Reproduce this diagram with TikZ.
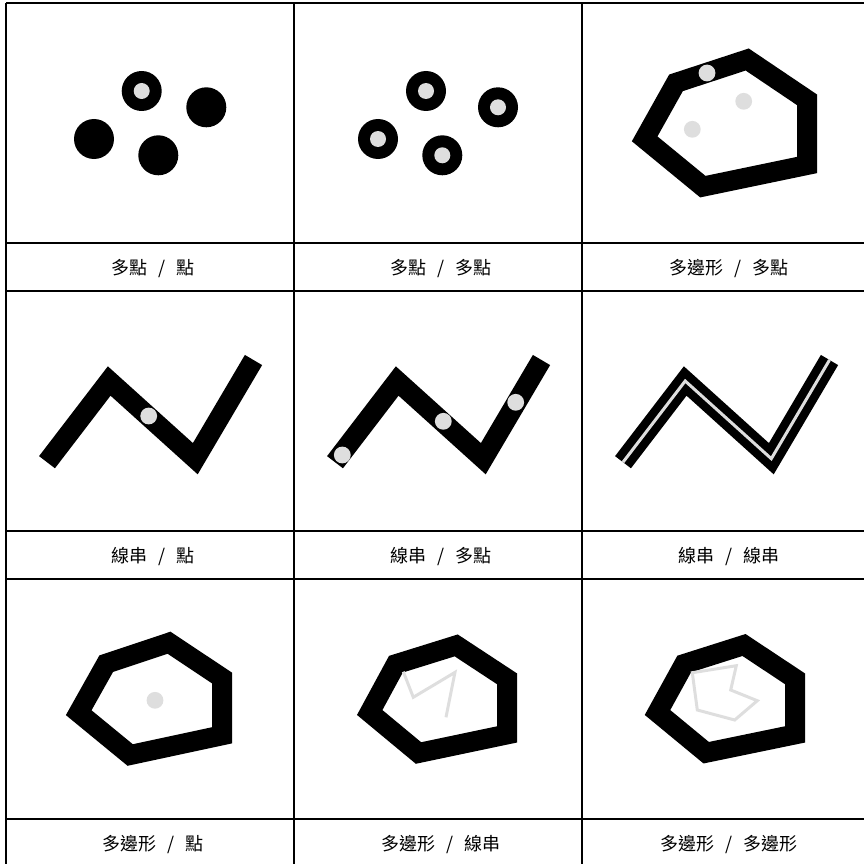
\documentclass[tikz,border=0pt]{standalone}
\usepackage{fontspec}
\newfontfamily\cjk{Noto Sans CJK TC}
\definecolor{lightdot}{RGB}{222,222,222}
\newcommand{\widespace}{\spaceskip=10.5pt\relax}
\tikzset{
  grid/.style={line width=1.2pt, black},
  thick line/.style={line width=20pt, black, line join=miter, line cap=butt},
  ringblack/.style={fill=black},
  dot/.style={fill=lightdot},
  thin gray/.style={line width=3pt, lightdot, line join=miter},
  cellabel/.style={font=\cjk\fontsize{18}{18}\selectfont, inner sep=0pt, anchor=center, execute at begin node=\widespace}
}
\begin{document}
\begin{tikzpicture}[x=1pt,y=-1pt]
\useasboundingbox (0,0) rectangle (864,864);
\clip (0,0) rectangle (864,864);
% grid
\draw[grid] (6,3) -- (864,3);
\draw[grid] (6,243) -- (864,243);
\draw[grid] (6,291) -- (864,291);
\draw[grid] (6,531) -- (864,531);
\draw[grid] (6,579) -- (864,579);
\draw[grid] (6,819) -- (864,819);
\draw[grid] (6,3) -- (6,864);
\draw[grid] (294,3) -- (294,864);
\draw[grid] (582,3) -- (582,864);

% cell 1: points / point
\fill[ringblack] (141.7,91) circle (20);
\fill[dot] (141.7,91) circle (8);
\fill[ringblack] (206.3,107.3) circle (20);
\fill[ringblack] (94,139) circle (20);
\fill[ringblack] (158.3,155.3) circle (20);

% cell 2: points / points
\foreach \p in {(426,91),(498,107.3),(378,139),(442.3,155.3)}{
  \fill[ringblack] \p circle (20);
  \fill[dot] \p circle (8);
}

% cell 3: polygon / points
\draw[thick line] (676,82.85) -- (747.2,59.5) -- (807,99.8) -- (807,165) -- (702.85,186.65) -- (644.65,138.85) -- cycle;
\fill[dot] (707,73) circle (8.4);
\fill[dot] (743.7,101.3) circle (8.4);
\fill[dot] (692.3,129.3) circle (8.4);

% cell 4: linestring / point
\draw[thick line] (47,462.2) -- (109.2,381) -- (195.3,458.7) -- (253.5,360);
\fill[dot] (148.7,416) circle (8.4);

% cell 5: linestring / points
\draw[thick line] (335,462.2) -- (397.2,381) -- (483.3,458.7) -- (541.5,360);
\fill[dot] (342.3,455) circle (8.4);
\fill[dot] (443.3,421.3) circle (8.4);
\fill[dot] (515.7,402.3) circle (8.4);

% cell 6: linestring / linestring
\draw[thick line] (623,462.2) -- (685.2,381) -- (771.3,458.7) -- (829.5,360);
\draw[thin gray] (623,462.2) -- (685.2,381) -- (771.3,458.7) -- (829.5,360);

% cell 7: polygon / point
\draw[thick line] (106.2,663.7) -- (169,642.7) -- (222,678) -- (222,735.3) -- (130.2,755) -- (78.7,712.7) -- cycle;
\fill[dot] (155,700.3) circle (8.4);

% cell 8: polygon / linestring
\draw[thick line] (395.9,664.2) -- (456.2,645.4) -- (507,678.8) -- (507,734.4) -- (418.5,753) -- (369.7,712.5) -- cycle;
\draw[thin gray] (403.3,671.7) -- (413.3,697.3) -- (455,672.3) -- (446,717.3);

% cell 9: polygon / polygon
\draw[thick line] (684.2,664) -- (744,645) -- (795,678.8) -- (795,734.4) -- (706.2,752.7) -- (657.5,712.5) -- cycle;
\draw[thin gray] (692.3,672.7) -- (736.3,665.7) -- (730.7,690) -- (757.3,700.7) -- (734.7,720) -- (697.3,710) -- cycle;

% labels
\node[cellabel] (l1) at (153,268.5) {多點 / 點};
\node[cellabel] (l2) at (441,268.5) {多點 / 多點};
\node[cellabel] (l3) at (729,268.5) {多邊形 / 多點};
\node[cellabel] (l4) at (153,556.5) {線串 / 點};
\node[cellabel] (l5) at (441,556.5) {線串 / 多點};
\node[cellabel] (l6) at (729,556.5) {線串 / 線串};
\node[cellabel] (l7) at (153,845) {多邊形 / 點};
\node[cellabel] (l8) at (441,845) {多邊形 / 線串};
\node[cellabel] (l9) at (729,845) {多邊形 / 多邊形};
\end{tikzpicture}
\end{document}
